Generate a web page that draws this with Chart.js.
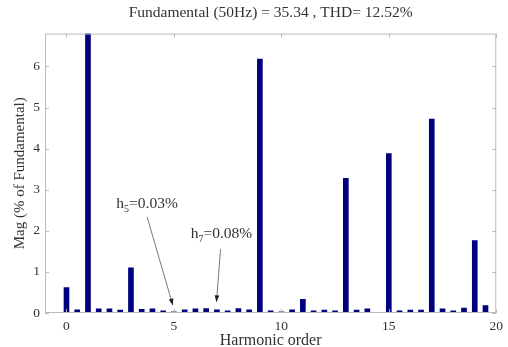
<!DOCTYPE html>
<html>
<head>
<meta charset="utf-8">
<script src="https://cdn.jsdelivr.net/npm/chart.js@4"></script>
<style>
  html, body { margin: 0; padding: 0; background: #fff; }
  #wrap { width: 508px; height: 347px; }
</style>
</head>
<body>
<div id="wrap"><canvas id="harmChart"></canvas></div>
<script>
// harmonic order (every half order) and magnitude in % of fundamental
const harmonics = [0, 0.5, 1, 1.5, 2, 2.5, 3, 3.5, 4, 4.5, 5, 5.5, 6, 6.5, 7, 7.5, 8, 8.5, 9, 9.5,
                   10, 10.5, 11, 11.5, 12, 12.5, 13, 13.5, 14, 14.5, 15, 15.5, 16, 16.5, 17, 17.5, 18, 18.5, 19, 19.5];
const magnitudes = [0.62, 0.08, 100, 0.1, 0.1, 0.07, 1.1, 0.09, 0.1, 0.05, 0.03, 0.08, 0.1, 0.11, 0.08, 0.05, 0.11, 0.08, 6.18, 0.05,
                    0.03, 0.08, 0.33, 0.05, 0.07, 0.05, 3.28, 0.07, 0.1, 0.01, 3.88, 0.05, 0.07, 0.07, 4.72, 0.1, 0.05, 0.12, 1.76, 0.18];
const xTicks = [0, 5, 10, 15, 20];
const yTicks = [0, 1, 2, 3, 4, 5, 6];

const titleText = 'Fundamental (50Hz) = 35.34 , THD= 12.52%';
const notes = [
    { sub: '5', text: '=0.03%', tx: 2.32, ty: 2.55, fromX: 3.75, fromY: 2.34, toX: 4.95, toY: 0.19 },
    { sub: '7', text: '=0.08%', tx: 5.78, ty: 1.82, fromX: 7.17, fromY: 1.56, toX: 6.98, toY: 0.27 }
];

const serif = '"Liberation Serif", "DejaVu Serif", serif';
const textColor = '#333';

// frame with inward tick marks on all four sides, plus the arrows
const framePlugin = {
    id: 'frame',
    afterDatasetsDraw(chart) {
        const { ctx, chartArea: a, scales } = chart;
        const xs = scales.x, ys = scales.y;
        ctx.save();
        ctx.strokeStyle = '#bbb';
        ctx.lineWidth = 1;
        ctx.strokeRect(a.left + 0.5, a.top + 0.5, a.right - a.left - 1, a.bottom - a.top - 1);
        ctx.beginPath();
        xTicks.forEach(v => {
            const px = Math.round(xs.getPixelForValue(v)) + 0.5;
            ctx.moveTo(px, a.bottom); ctx.lineTo(px, a.bottom - 4);
            ctx.moveTo(px, a.top); ctx.lineTo(px, a.top + 4);
        });
        yTicks.forEach(v => {
            const py = Math.round(ys.getPixelForValue(v)) + 0.5;
            ctx.moveTo(a.left, py); ctx.lineTo(a.left + 4, py);
            ctx.moveTo(a.right, py); ctx.lineTo(a.right - 4, py);
        });
        ctx.stroke();

        notes.forEach(n => {
            const x0 = xs.getPixelForValue(n.fromX), y0 = ys.getPixelForValue(n.fromY);
            const x1 = xs.getPixelForValue(n.toX), y1 = ys.getPixelForValue(n.toY);
            ctx.strokeStyle = '#555';
            ctx.fillStyle = '#222';
            ctx.lineWidth = 0.8;
            ctx.beginPath();
            ctx.moveTo(x0, y0); ctx.lineTo(x1, y1);
            ctx.stroke();
            const ang = Math.atan2(y1 - y0, x1 - x0);
            ctx.beginPath();
            ctx.moveTo(x1, y1);
            ctx.lineTo(x1 - 7 * Math.cos(ang - 0.35), y1 - 7 * Math.sin(ang - 0.35));
            ctx.lineTo(x1 - 7 * Math.cos(ang + 0.35), y1 - 7 * Math.sin(ang + 0.35));
            ctx.closePath();
            ctx.fill();

            const tx = xs.getPixelForValue(n.tx), ty = ys.getPixelForValue(n.ty);
            ctx.fillStyle = textColor;
            ctx.textBaseline = 'alphabetic';
            ctx.textAlign = 'left';
            ctx.font = '15.5px ' + serif;
            ctx.fillText('h', tx, ty);
            const hw = ctx.measureText('h').width;
            ctx.font = '10px ' + serif;
            ctx.fillText(n.sub, tx + hw, ty + 4);
            const sw = ctx.measureText(n.sub).width;
            ctx.font = '15.5px ' + serif;
            ctx.fillText(n.text, tx + hw + sw, ty);
        });
        ctx.restore();
    }
};

const ctx = document.getElementById('harmChart').getContext('2d');

new Chart(ctx, {
    type: 'bar',
    data: {
        datasets: [{
            data: harmonics.map((h, i) => ({ x: h, y: magnitudes[i] })),
            backgroundColor: '#00007f',
            borderWidth: 0,
            barThickness: 5,
        }],
    },
    options: {
        responsive: true,
        maintainAspectRatio: false,
        animation: false,
        layout: { padding: { left: 0, right: 8, top: 0, bottom: 0 } },
        plugins: {
            legend: { display: false },
            tooltip: { enabled: false },
            title: {
                display: true,
                fullSize: false,
                text: titleText,
                color: textColor,
                font: { family: serif, size: 15.5, weight: 'normal' },
                padding: { top: 4, bottom: 11 },
            },
        },
        scales: {
            x: {
                type: 'linear',
                offset: false,
                min: -1,
                max: 20,
                grid: { display: false, drawTicks: false, offset: false },
                border: { display: false },
                afterBuildTicks: s => { s.ticks = xTicks.map(v => ({ value: v })); },
                afterFit: s => { s.height = 34; },
                ticks: {
                    color: textColor,
                    font: { family: serif, size: 13.5 },
                    padding: 5,
                    maxRotation: 0,
                },
                title: {
                    display: true,
                    text: 'Harmonic order',
                    color: textColor,
                    font: { family: serif, size: 16 },
                    padding: { top: 0, bottom: -3 },
                },
            },
            y: {
                min: 0,
                max: 6.8,
                grid: { display: false, drawTicks: false },
                border: { display: false },
                afterBuildTicks: s => { s.ticks = yTicks.map(v => ({ value: v })); },
                afterFit: s => { s.width = 45; },
                ticks: {
                    color: textColor,
                    font: { family: serif, size: 13.5 },
                    padding: 5,
                },
                title: {
                    display: true,
                    text: 'Mag (% of Fundamental)',
                    color: textColor,
                    font: { family: serif, size: 15 },
                    padding: { top: 11, bottom: 0 },
                },
            },
        },
    },
    plugins: [framePlugin],
});
</script>
</body>
</html>
